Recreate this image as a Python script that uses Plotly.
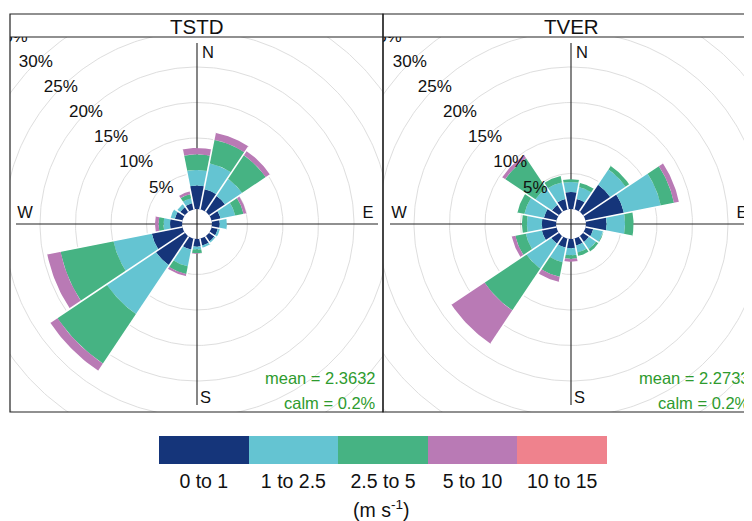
import numpy as np
import plotly.graph_objects as go

# ---------------- data ----------------
directions = [0.0, 22.5, 45.0, 67.5, 90.0, 112.5, 135.0, 157.5,
              180.0, 202.5, 225.0, 247.5, 270.0, 292.5, 315.0, 337.5]
speed_bins = ["0 to 1", "1 to 2.5", "2.5 to 5", "5 to 10", "10 to 15"]
bin_colors = ["#15357A", "#64C4D2", "#46B383", "#B97AB5", "#EF828D"]
speed_unit_label = "(m s<sup>-1</sup>)"
panel_names = ["TSTD", "TVER"]
mean_labels = ["mean = 2.3632", "mean = 2.2733"]
calm_labels = ["calm = 0.2%", "calm = 0.2%"]
ring_pcts = [5, 10, 15, 20, 25, 30, 35]
compass_labels = ["N", "E", "S", "W"]

# frequencies (%) per direction sector, one list per speed bin
tstd_0_1    = [3.3, 2.9, 2.7, 1.3, 1.1, 0.9, 0.9, 1.0, 1.1, 1.6, 4.9, 4.4, 1.7, 1.1, 0.8, 0.9]
tstd_1_2p5  = [2.2, 3.7, 2.9, 2.1, 1.0, 0.3, 0.2, 0.3, 0.4, 2.4, 8.3, 5.5, 0.9, 0.6, 0.5, 0.7]
tstd_2p5_5  = [2.2, 3.4, 4.0, 1.2, 0.0, 0.0, 0.0, 0.0, 0.5, 1.1, 8.4, 7.6, 0.7, 0.0, 0.0, 0.6]
tstd_5_10   = [0.9, 1.0, 0.7, 0.4, 0.0, 0.0, 0.0, 0.0, 0.1, 0.3, 1.2, 1.9, 0.5, 0.0, 0.0, 0.4]
tstd_10_15  = [0.0] * 16

tver_0_1    = [2.4, 1.5, 4.6, 5.5, 2.9, 1.1, 1.0, 1.0, 1.3, 1.3, 1.3, 2.1, 2.0, 1.8, 1.2, 1.5]
tver_1_2p5  = [1.4, 1.7, 2.6, 5.3, 2.6, 1.4, 1.2, 1.0, 1.0, 2.1, 4.2, 2.3, 2.1, 2.8, 2.8, 2.4]
tver_2p5_5  = [0.4, 0.6, 0.6, 1.9, 1.2, 0.1, 0.4, 0.5, 0.5, 2.1, 7.1, 1.5, 0.7, 1.0, 5.1, 0.9]
tver_5_10   = [0.0, 0.0, 0.0, 0.7, 0.0, 0.0, 0.0, 0.0, 0.4, 0.7, 5.6, 0.5, 0.0, 0.0, 0.5, 0.0]
tver_10_15  = [0.0] * 16

panel_bins = [
    [tstd_0_1, tstd_1_2p5, tstd_2p5_5, tstd_5_10, tstd_10_15],
    [tver_0_1, tver_1_2p5, tver_2p5_5, tver_5_10, tver_10_15],
]

# ---------------- geometry / style ----------------
PAGE_MARGIN = 8                      # default body margin of the html page
FIG_W, FIG_H = 752 - PAGE_MARGIN, 521 - PAGE_MARGIN
PX_PER_PCT = 7.1
HOLE = 15 / PX_PER_PCT               # inner hole radius, in % units
SECTOR = 22.5
AXIS_HALF = 181 / PX_PER_PCT
FONT = "Liberation Sans, Arial, Helvetica, sans-serif"
PLOT_TOP, PLOT_BOT, STRIP_TOP = 37, 412, 14
panel_px = [(10, 383, 197), (383, 760, 571)]   # left, right, centre x (window px)
CY = 224


def px_x(p):
    return (p - PAGE_MARGIN) / FIG_W


def px_y(p):
    return 1 - (p - PAGE_MARGIN) / FIG_H


fig = go.Figure()
shapes, annotations = [], []

for i, name in enumerate(panel_names):
    x0p, x1p, cx = panel_px[i]
    sfx = "" if i == 0 else str(i + 1)
    xa, ya = "x" + sfx, "y" + sfx
    dom_x0 = max(PAGE_MARGIN, x0p)
    dom_x1 = min(PAGE_MARGIN + FIG_W, x1p)

    # rings
    th = np.radians(np.linspace(0, 360, 361))
    rx, ry = [], []
    for p in ring_pcts + [40, 45]:
        r = HOLE + p
        rx += list(r * np.sin(th)) + [None]
        ry += list(r * np.cos(th)) + [None]
    fig.add_trace(go.Scatter(x=rx, y=ry, mode="lines", line=dict(color="#dedede", width=1),
                             hoverinfo="skip", showlegend=False, xaxis=xa, yaxis=ya))
    # cross lines
    fig.add_trace(go.Scatter(x=[-AXIS_HALF, AXIS_HALF, None, 0, 0],
                             y=[0, 0, None, -AXIS_HALF, AXIS_HALF],
                             mode="lines", line=dict(color="#222", width=1.1),
                             hoverinfo="skip", showlegend=False, xaxis=xa, yaxis=ya))
    # stacked wedges
    bins = panel_bins[i]
    cum = np.zeros(len(directions))
    for k, vals in enumerate(bins):
        px_, py_ = [], []
        for j, d in enumerate(directions):
            v = vals[j]
            if v <= 0:
                continue
            r0, r1 = HOLE + cum[j], HOLE + cum[j] + v
            a = np.radians(np.linspace(d - SECTOR / 2, d + SECTOR / 2, 20))
            xs = list(r1 * np.sin(a)) + list(r0 * np.sin(a[::-1]))
            ys = list(r1 * np.cos(a)) + list(r0 * np.cos(a[::-1]))
            px_ += xs + [xs[0], None]
            py_ += ys + [ys[0], None]
        cum = cum + np.array(vals)
        if px_:
            fig.add_trace(go.Scatter(x=px_, y=py_, mode="lines", fill="toself",
                                     fillcolor=bin_colors[k], line=dict(width=0, color=bin_colors[k]),
                                     hoverinfo="skip", showlegend=False, xaxis=xa, yaxis=ya))
    # white separators between sectors
    sx, sy = [], []
    n = len(directions)
    for j, d in enumerate(directions):
        b = np.radians(d + SECTOR / 2)
        L = HOLE + max(cum[j], cum[(j + 1) % n])
        sx += [HOLE * np.sin(b), L * np.sin(b), None]
        sy += [HOLE * np.cos(b), L * np.cos(b), None]
    fig.add_trace(go.Scatter(x=sx, y=sy, mode="lines", line=dict(color="white", width=1.6),
                             hoverinfo="skip", showlegend=False, xaxis=xa, yaxis=ya))
    # ring labels
    c45 = np.cos(np.radians(45))
    fig.add_trace(go.Scatter(x=[-(HOLE + p) * c45 for p in ring_pcts],
                             y=[(HOLE + p) * c45 for p in ring_pcts],
                             text=[f"{p}%" for p in ring_pcts], mode="text",
                             textfont=dict(family=FONT, size=17, color="#111"),
                             cliponaxis=True, hoverinfo="skip", showlegend=False,
                             xaxis=xa, yaxis=ya))
    # compass labels
    u = 1 / PX_PER_PCT
    fig.add_trace(go.Scatter(x=[5 * u, 171 * u, 3 * u, -172 * u],
                             y=[170 * u, 10 * u, -175 * u, 10 * u],
                             text=compass_labels, mode="text",
                             textposition=["middle right", "middle center", "middle right", "middle center"],
                             textfont=dict(family=FONT, size=16.5, color="#111"),
                             cliponaxis=False, hoverinfo="skip", showlegend=False,
                             xaxis=xa, yaxis=ya))

    ax = dict(domain=[px_x(dom_x0), px_x(dom_x1)],
              range=[(dom_x0 - cx) / PX_PER_PCT, (dom_x1 - cx) / PX_PER_PCT],
              visible=False, fixedrange=True)
    ay = dict(domain=[px_y(PLOT_BOT), px_y(PLOT_TOP)],
              range=[(CY - PLOT_BOT) / PX_PER_PCT, (CY - PLOT_TOP) / PX_PER_PCT],
              visible=False, fixedrange=True)
    if i > 0:
        ax["anchor"] = ya
        ay["anchor"] = xa
    fig.update_layout(**{"xaxis" + sfx: ax, "yaxis" + sfx: ay})

    # frame + strip
    shapes.append(dict(type="rect", xref="paper", yref="paper",
                       x0=px_x(x0p), x1=px_x(x1p), y0=px_y(PLOT_BOT), y1=px_y(STRIP_TOP),
                       line=dict(color="#222", width=1.2), layer="above"))
    shapes.append(dict(type="line", xref="paper", yref="paper",
                       x0=px_x(x0p), x1=px_x(x1p), y0=px_y(PLOT_TOP), y1=px_y(PLOT_TOP),
                       line=dict(color="#222", width=1.2), layer="above"))
    annotations.append(dict(text=name, xref="paper", yref="paper", x=px_x(cx),
                            y=px_y((STRIP_TOP + PLOT_TOP) / 2 + 1), showarrow=False,
                            xanchor="center", yanchor="middle",
                            font=dict(family=FONT, size=20.5, color="#111")))
    annotations.append(dict(text=mean_labels[i], xref="paper", yref="paper",
                            x=px_x(cx + 181), y=px_y(378), showarrow=False,
                            xanchor="right", yanchor="middle",
                            font=dict(family=FONT, size=16.5, color="#2E9B2E")))
    annotations.append(dict(text=calm_labels[i], xref="paper", yref="paper",
                            x=px_x(cx + 181), y=px_y(403), showarrow=False,
                            xanchor="right", yanchor="middle",
                            font=dict(family=FONT, size=16.5, color="#2E9B2E")))

# ---------------- colour key ----------------
nb = len(speed_bins)
cs = []
for k, c in enumerate(bin_colors):
    cs.append([max(0.0, (k - 0.5) / (nb - 1)), c])
    cs.append([min(1.0, (k + 0.5) / (nb - 1)), c])
fig.add_trace(go.Heatmap(z=[list(range(nb))], x=speed_bins, y=[0], colorscale=cs,
                         zmin=0, zmax=nb - 1, showscale=False, hoverinfo="skip",
                         xaxis="x3", yaxis="y3"))
fig.update_layout(
    xaxis3=dict(domain=[px_x(159), px_x(607)], anchor="y3", type="category",
                showgrid=False, zeroline=False, showline=False, ticks="",
                tickfont=dict(family=FONT, size=19.5, color="#111"),
                ticklabelstandoff=3, fixedrange=True),
    yaxis3=dict(domain=[px_y(464), px_y(436)], anchor="x3", visible=False,
                range=[-0.5, 0.5], fixedrange=True),
)
annotations.append(dict(text=speed_unit_label, xref="paper", yref="paper",
                        x=px_x(381), y=px_y(509), showarrow=False,
                        xanchor="center", yanchor="middle",
                        font=dict(family=FONT, size=19.5, color="#111")))

fig.update_layout(width=FIG_W, height=FIG_H, autosize=False,
                  margin=dict(l=0, r=0, t=0, b=0),
                  paper_bgcolor="white", plot_bgcolor="white",
                  shapes=shapes, annotations=annotations, showlegend=False)

fig.write_html("out.html")
